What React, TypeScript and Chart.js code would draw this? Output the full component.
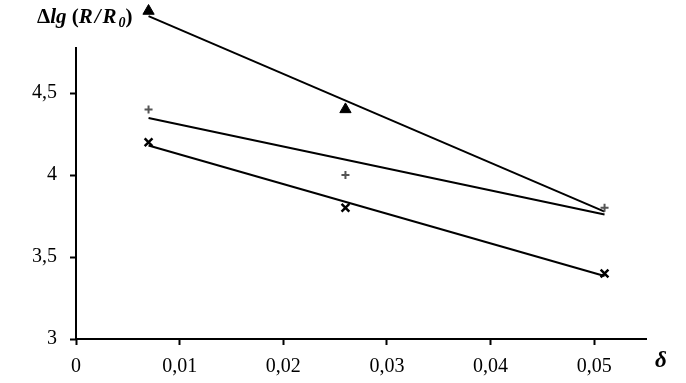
import React, { useEffect, useRef } from 'react';
import { Chart, registerables } from 'chart.js';

Chart.register(...registerables);

const X_VALUES = [0.007, 0.026, 0.051];
const TRIANGLE_VALUES = [5.0, 4.4, 3.8];
const PLUS_VALUES = [4.4, 4.0, 3.8];
const CROSS_VALUES = [4.2, 3.8, 3.4];
const X_TICKS = [0, 0.01, 0.02, 0.03, 0.04, 0.05];
const X_TICK_LABELS = ['0', '0,01', '0,02', '0,03', '0,04', '0,05'];
const Y_TICKS = [3, 3.5, 4, 4.5];
const Y_TICK_LABELS = ['3', '3,5', '4', '4,5'];
const X_MIN = 0;
const X_MAX = 0.055;
const Y_MIN = 3;
const Y_MAX = 5;
const Y_AXIS_TOP = 4.78;

const SERIF = "'Liberation Serif', 'Times New Roman', serif";

function fit(xs: number[], ys: number[]) {
  const n = xs.length;
  const mx = xs.reduce((a, b) => a + b, 0) / n;
  const my = ys.reduce((a, b) => a + b, 0) / n;
  let sxy = 0;
  let sxx = 0;
  for (let i = 0; i < n; i++) {
    sxy += (xs[i] - mx) * (ys[i] - my);
    sxx += (xs[i] - mx) * (xs[i] - mx);
  }
  const slope = sxy / sxx;
  const b = my - slope * mx;
  return [
    { x: xs[0], y: slope * xs[0] + b },
    { x: xs[n - 1], y: slope * xs[n - 1] + b },
  ];
}

const pts = (ys: number[]) => X_VALUES.map((x, i) => ({ x, y: ys[i] }));

const decoPlugin = {
  id: 'deco',
  afterDraw(chart: any) {
    const ctx = chart.ctx;
    const ca = chart.chartArea;
    const ys = chart.scales.y;
    ctx.save();
    // y axis line (shortened at the top)
    ctx.strokeStyle = '#000';
    ctx.lineWidth = 2;
    ctx.beginPath();
    ctx.moveTo(ca.left, ys.getPixelForValue(Y_AXIS_TOP));
    ctx.lineTo(ca.left, ca.bottom + 1);
    ctx.stroke();

    // y axis title
    ctx.fillStyle = '#000';
    ctx.textBaseline = 'alphabetic';
    ctx.textAlign = 'left';
    const size = 21;
    const parts: { t: string; it: boolean; sub?: boolean }[] = [
      { t: 'Δ', it: false },
      { t: 'lg', it: true },
      { t: ' (', it: false },
      { t: 'R', it: true },
      { t: '/', it: true },
      { t: 'R', it: true },
      { t: '0', it: true, sub: true },
      { t: ')', it: false },
    ];
    let x = 37;
    const base = 23;
    for (const p of parts) {
      const fs = p.sub ? 14 : size;
      ctx.font = `${p.it ? 'italic ' : ''}bold ${fs}px ${SERIF}`;
      ctx.fillText(p.t, x, p.sub ? base + 4 : base);
      x += ctx.measureText(p.t).width + (p.t === '/' ? 2 : 0) + (p.t === 'R' ? 2 : 0);
    }

    // x axis title
    ctx.font = `italic bold 23px ${SERIF}`;
    ctx.textAlign = 'center';
    ctx.textBaseline = 'middle';
    ctx.fillText('δ', 661, 361);
    ctx.restore();
  },
};

export default function App() {
  const ref = useRef<HTMLCanvasElement | null>(null);

  useEffect(() => {
    document.body.style.margin = '0';
    if (!ref.current) return;
    const chart = new Chart(ref.current, {
      type: 'scatter',
      data: {
        datasets: [
          {
            data: pts(TRIANGLE_VALUES),
            pointStyle: 'triangle',
            pointRadius: [6.5, 6.5, 0],
            backgroundColor: '#000',
            borderColor: '#000',
            borderWidth: 1,
            order: 1,
          },
          {
            data: pts(PLUS_VALUES),
            pointStyle: 'cross',
            pointRadius: 4,
            backgroundColor: '#555',
            borderColor: '#555',
            borderWidth: 2,
            order: 1,
          },
          {
            data: pts(CROSS_VALUES),
            pointStyle: 'crossRot',
            pointRadius: 5.5,
            backgroundColor: '#000',
            borderColor: '#000',
            borderWidth: 2.5,
            order: 1,
          },
          {
            type: 'line',
            data: fit(X_VALUES, TRIANGLE_VALUES),
            borderColor: '#000',
            borderWidth: 2,
            pointRadius: 0,
            order: 2,
          },
          {
            type: 'line',
            data: fit(X_VALUES, PLUS_VALUES),
            borderColor: '#000',
            borderWidth: 2,
            pointRadius: 0,
            order: 2,
          },
          {
            type: 'line',
            data: fit(X_VALUES, CROSS_VALUES),
            borderColor: '#000',
            borderWidth: 2,
            pointRadius: 0,
            order: 2,
          },
        ] as any,
      },
      options: {
        animation: false,
        responsive: false,
        devicePixelRatio: 1,
        clip: false as any,
        layout: { padding: { top: 11, right: 40, left: 0, bottom: 0 } },
        plugins: { legend: { display: false }, tooltip: { enabled: false } },
        scales: {
          x: {
            type: 'linear',
            min: X_MIN,
            max: X_MAX,
            afterFit: (s: any) => {
              s.height = 44;
              s.paddingLeft = 0;
              s.paddingRight = 0;
            },
            afterBuildTicks: (s: any) => {
              s.ticks = X_TICKS.map((v) => ({ value: v }));
            },
            ticks: {
              color: '#000',
              font: { family: SERIF, size: 20 },
              padding: 10,
              maxRotation: 0,
              autoSkip: false,
              callback: (v: any) => X_TICK_LABELS[X_TICKS.indexOf(Number(v))] ?? '',
            },
            grid: {
              display: true,
              drawOnChartArea: false,
              drawTicks: true,
              tickLength: 6,
              tickColor: '#000',
              tickWidth: 2,
            },
            border: { display: true, color: '#000', width: 2 },
          },
          y: {
            type: 'linear',
            min: Y_MIN,
            max: Y_MAX,
            afterFit: (s: any) => {
              s.width = 76;
              s.paddingTop = 0;
              s.paddingBottom = 0;
            },
            afterBuildTicks: (s: any) => {
              s.ticks = Y_TICKS.map((v) => ({ value: v }));
            },
            ticks: {
              color: '#000',
              font: { family: SERIF, size: 20 },
              padding: 13,
              autoSkip: false,
              callback: (v: any) => Y_TICK_LABELS[Y_TICKS.indexOf(Number(v))] ?? '',
            },
            grid: {
              display: true,
              drawOnChartArea: false,
              drawTicks: true,
              tickLength: 6,
              tickColor: '#000',
              tickWidth: 2,
            },
            border: { display: false },
          },
        },
      },
      plugins: [decoPlugin],
    });
    return () => chart.destroy();
  }, []);

  return (
    <div style={{ width: 686, height: 383, background: '#fff' }}>
      <canvas ref={ref} width={686} height={383} />
    </div>
  );
}
